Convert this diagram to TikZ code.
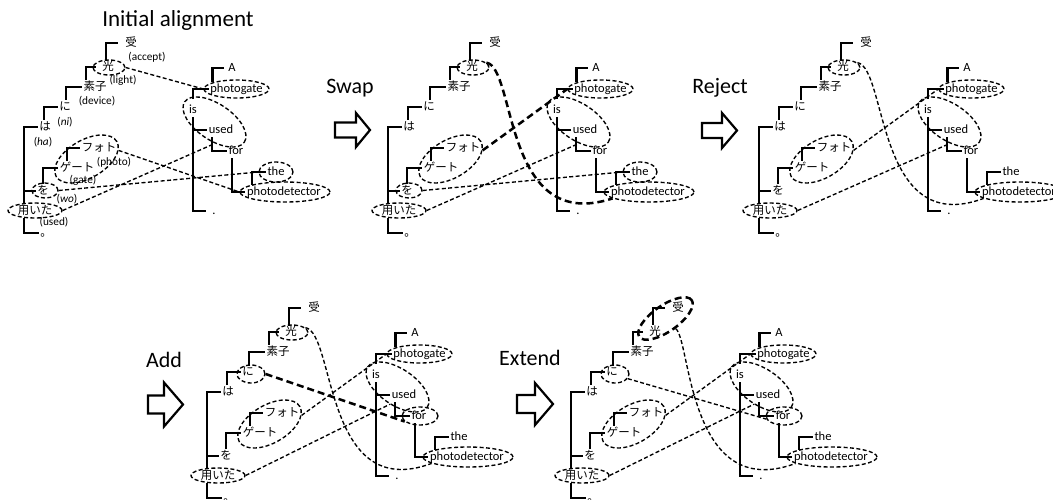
\documentclass[tikz,border=0pt]{standalone}
\usepackage{fontspec}
\setmainfont{Carlito}
\newfontfamily\jp{Noto Sans CJK JP}
\usetikzlibrary{calc,shapes.geometric}
\tikzset{
  jw/.style={font=\jp\fontsize{11.5}{12}\selectfont, inner sep=1.5pt, text height=9pt, text depth=2pt},
  ew/.style={font=\fontsize{12.5}{13}\selectfont, inner sep=1.5pt, text height=8.5pt, text depth=2.5pt},
  gl/.style={font=\fontsize{11.3}{12}\selectfont, inner sep=0pt},
  br/.style={line width=2.2pt, line join=miter},
  al/.style={line width=1.35pt, dash pattern=on 4pt off 2.4pt},
  alb/.style={line width=2.5pt, dash pattern=on 7pt off 4pt},
  ell/.style={ellipse, draw, al, inner sep=0pt},
  ellb/.style={ellipse, draw, alb, inner sep=0pt},
  lab/.style={font=\fontsize{22}{24}\selectfont, anchor=base, inner sep=0pt},
  bigarrow/.style={line width=2.2pt, line join=miter}
}
\newcommand{\jtree}[1]{%
  \node[jw] (#1uke) at (131,43) {受};
  \node[jw] (#1hik) at (108,67) {光};
  \node[jw] (#1soshi) at (95,87) {素子};
  \node[jw] (#1ni) at (65,107) {に};
  \node[jw] (#1ha) at (45,127) {は};
  \node[jw] (#1foto) at (99,148) {フォト};
  \node[jw] (#1gate) at (77,168) {ゲート};
  \node[jw] (#1wo) at (43,191) {を};
  \node[jw] (#1mochi) at (35,211) {用いた};
  \node[jw] (#1maru) at (46,233) {。};
  \coordinate (#1jr) at (24,211);
  \draw[br] (#1ha.west) -| (#1mochi.north -| #1jr);
  \draw[br] (#1maru.west) -| (#1mochi.south -| #1jr);
  \draw[br] (#1wo.west) -- (#1wo.west -| #1jr);
  \draw[br] ([xshift=-1pt]#1ha.north) |- (#1ni.west);
  \draw[br] ([xshift=1pt]#1ni.north) |- (#1soshi.west);
  \draw[br,shorten >=5pt] ([xshift=-9pt]#1soshi.north) |- (#1hik.west);
  \draw[br,shorten >=6pt] ([xshift=-2pt]#1hik.north) |- (#1uke.west);
  \draw[br] (#1wo.north) |- (#1gate.west);
  \draw[br] ([xshift=-10pt]#1gate.north) |- (#1foto.west);
}
\newcommand{\etree}[1]{%
  \node[ew] (#1A) at (232,68) {A};
  \node[ew] (#1pg) at (236.5,89) {photogate};
  \node[ew] (#1is) at (193,110) {is};
  \node[ew] (#1used) at (221,130) {used};
  \node[ew] (#1for) at (236,151) {for};
  \node[ew] (#1the) at (276,172) {the};
  \node[ew] (#1pd) at (284,192) {photodetector};
  \node[ew] (#1per) at (214,211) {.};
  \draw[br,shorten <=4pt] (#1is.north) |- (#1pg.west);
  \draw[br,shorten >=5pt] (#1is.south) |- (#1per.west);
  \draw[br] (#1used.west) -- (#1used.west -| #1is.center);
  \draw[br,shorten >=3pt] ([xshift=-24pt]#1pg.north) |- (#1A.west);
  \draw[br] ([xshift=-9pt]#1used.south) |- (#1for.west);
  \draw[br] ([xshift=-4pt]#1for.south) |- (#1pd.west);
  \draw[br] ([xshift=-32pt]#1pd.north) |- (#1the.west);
}
% common ellipses
\newcommand{\ehik}[1]{\node[ell, minimum width=32pt, minimum height=15pt] (#1Ehik) at (109,67.5) {};}
\newcommand{\efg}[1]{\node[ell, minimum width=70pt, minimum height=38pt, rotate=30] (#1Efg) at (86.5,159) {};}
\newcommand{\ewo}[1]{\node[ell, minimum width=26pt, minimum height=15pt] (#1Ewo) at (45,190.5) {};}
\newcommand{\emochi}[1]{\node[ell, minimum width=54pt, minimum height=15pt] (#1Emochi) at (35,210.5) {};}
\newcommand{\epg}[1]{\node[ell, minimum width=65pt, minimum height=18pt] (#1Epg) at (236.5,89) {};}
\newcommand{\eiu}[1]{\node[ell, minimum width=72pt, minimum height=36pt, rotate=-34] (#1Eiu) at (214.5,122) {};}
\newcommand{\ethe}[1]{\node[ell, minimum width=34pt, minimum height=20pt] (#1Ethe) at (276,172) {};}
\newcommand{\epd}[1]{\node[ell, minimum width=90pt, minimum height=20pt] (#1Epd) at (285,192) {};}
\newcommand{\eni}[1]{\node[ell, minimum width=28pt, minimum height=18pt] (#1Eni) at (68,109) {};}
\newcommand{\efor}[1]{\node[ell, minimum width=36pt, minimum height=18pt] (#1Efor) at (237,151) {};}
\newcommand{\bigarr}[6]{% x0, yc, shaft len, total len, shaft half, head half
  \draw[bigarrow] (#1,#2-#5) -- (#1+#3,#2-#5) -- (#1+#3,#2-#6) -- (#1+#4,#2)
    -- (#1+#3,#2+#6) -- (#1+#3,#2+#5) -- (#1,#2+#5) -- cycle;}
\begin{document}
\begin{tikzpicture}[x=1pt,y=-1pt]
\useasboundingbox (0,0) rectangle (1053,499);
% labels
\node[lab, font=\fontsize{23}{25}\selectfont] (tInit) at (178,26) {Initial alignment};
\node[lab] (tSwap) at (350,93) {Swap};
\node[lab] (tReject) at (720,93) {Reject};
\node[lab] (tAdd) at (164,367) {Add};
\node[lab] (tExtend) at (530,365) {Extend};
\bigarr{335}{130}{21}{35}{7.5}{17}
\bigarr{702}{130.5}{20}{35}{7.5}{17.5}
\bigarr{148}{404.5}{16}{35}{9}{22}
\bigarr{517}{404}{18}{36}{9}{21}
% ---------- panel 1
\begin{scope}
\jtree{a}\etree{a}
\node[gl] (gaccept) at (147,57) {(accept)};
\node[gl] (glight) at (123,80) {(light)};
\node[gl] (gdevice) at (97,101) {(device)};
\node[gl] (gni) at (65,122) {(\textit{ni})};
\node[gl] (gha) at (43,142) {(\textit{ha})};
\node[gl] (gphoto) at (114,162) {(photo)};
\node[gl] (ggate) at (83,180) {(gate)};
\node[gl] (gwo) at (67,199) {(\textit{wo})};
\node[gl] (gused) at (54,222) {(used)};
\ehik{a}\efg{a}\ewo{a}\emochi{a}\epg{a}\eiu{a}\ethe{a}\epd{a}
\draw[al] (aEhik.east) -- (aEpg.west);
\draw[al] (aEfg.-15) -- (aEpd.west);
\draw[al] (aEwo.east) -- (aEthe.west);
\draw[al] (aEmochi.east) -- (aEiu.-55);
\end{scope}
% ---------- panel 2
\begin{scope}[shift={(364,0)}]
\jtree{b}\etree{b}
\ehik{b}\efg{b}\ewo{b}\emochi{b}\epg{b}\eiu{b}\ethe{b}\epd{b}
\draw[alb] (bEhik.20) .. controls +(30,5) and +(-110,36) .. (bEpd.190);
\draw[alb] (bEfg.-15) -- (bEpg.west);
\draw[al] (bEwo.east) -- (bEthe.west);
\draw[al] (bEmochi.east) -- (bEiu.-55);
\end{scope}
% ---------- panel 3
\begin{scope}[shift={(735,0)}]
\jtree{c}\etree{c}
\ehik{c}\efg{c}\emochi{c}\epg{c}\eiu{c}\epd{c}
\draw[al] (cEhik.20) .. controls +(30,5) and +(-108,40) .. (cEpd.190);
\draw[al] (cEfg.-15) -- (cEpg.west);
\draw[al] (cEmochi.east) -- (cEiu.-55);
\end{scope}
% ---------- panel 4
\begin{scope}[shift={(183,265)}]
\jtree{d}\etree{d}
\ehik{d}\eni{d}\efg{d}\emochi{d}\epg{d}\eiu{d}\efor{d}\epd{d}
\draw[alb] (dEni.east) -- (dEfor.200);
\draw[al] (dEhik.20) .. controls +(30,5) and +(-108,40) .. (dEpd.190);
\draw[al] (dEfg.-15) -- (dEpg.west);
\draw[al] (dEmochi.east) -- (dEiu.-80);
\end{scope}
% ---------- panel 5
\begin{scope}[shift={(547,265)}]
\jtree{e}\etree{e}
\node[ellb, minimum width=64pt, minimum height=26pt, rotate=35] (eEuh) at (118.5,53.5) {};
\eni{e}\efg{e}\emochi{e}\epg{e}\eiu{e}\efor{e}\epd{e}
\draw[al] (eEni.-20) -- (eEfor.190);
\draw[al] (eEuh.-80) .. controls +(15,10) and +(-108,40) .. (eEpd.190);
\draw[al] (eEfg.-15) -- (eEpg.west);
\draw[al] (eEmochi.east) -- (eEiu.-80);
\end{scope}
\end{tikzpicture}
\end{document}
